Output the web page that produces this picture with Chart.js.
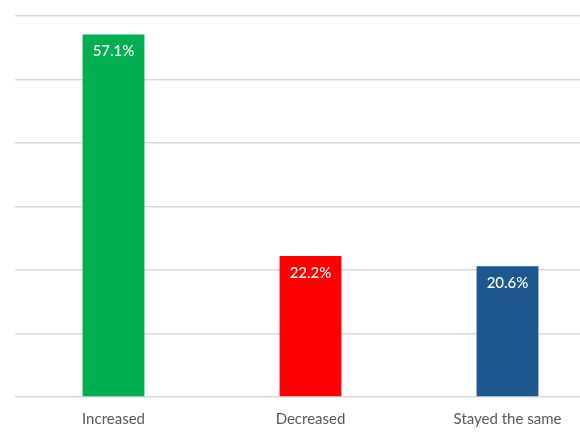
<!DOCTYPE html>
<html>
<head>
<meta charset="utf-8">
<script src="https://cdn.jsdelivr.net/npm/chart.js@4/dist/chart.umd.min.js"></script>
<style>
  html, body { margin: 0; padding: 0; overflow: hidden; background: #fff; width: 580px; height: 435px; }
  #wrap { position: absolute; left: 0; top: 0; width: 606px; height: 449px; }
</style>
</head>
<body>
<div id="wrap"><canvas id="c"></canvas></div>
<script>
const categories = ["Increased", "Decreased", "Stayed the same"];
const values = [57.1, 22.2, 20.6];
const barColors = ["#00B050", "#FF0000", "#1F5791"];

const valueLabels = {
  id: "valueLabels",
  afterDatasetsDraw(chart) {
    const ctx = chart.ctx;
    const meta = chart.getDatasetMeta(0);
    ctx.save();
    ctx.fillStyle = "#ffffff";
    ctx.font = "500 15px Lato, 'Open Sans', sans-serif";
    ctx.textAlign = "center";
    ctx.textBaseline = "middle";
    meta.data.forEach((bar, i) => {
      ctx.fillText(values[i].toFixed(1) + "%", bar.x, bar.y + 17);
    });
    ctx.restore();
  }
};

new Chart(document.getElementById("c"), {
  type: "bar",
  data: {
    labels: categories,
    datasets: [{
      data: values,
      backgroundColor: barColors,
      borderWidth: 0,
      barPercentage: 0.314,
      categoryPercentage: 1
    }]
  },
  options: {
    responsive: true,
    maintainAspectRatio: false,
    animation: false,
    layout: { padding: { top: 16, left: 15, right: 0, bottom: 8 } },
    plugins: { legend: { display: false }, tooltip: { enabled: false } },
    scales: {
      x: {
        grid: { display: false, drawTicks: false },
        border: { display: false },
        ticks: {
          color: "#595959",
          padding: 13,
          font: { family: "Lato, 'Open Sans', sans-serif", size: 15 }
        }
      },
      y: {
        min: 0, max: 60,
        ticks: { display: false, stepSize: 10 },
        grid: { color: "#d9d9d9", lineWidth: 1.5, drawTicks: false },
        border: { display: false }
      }
    }
  },
  plugins: [valueLabels]
});
</script>
</body>
</html>
